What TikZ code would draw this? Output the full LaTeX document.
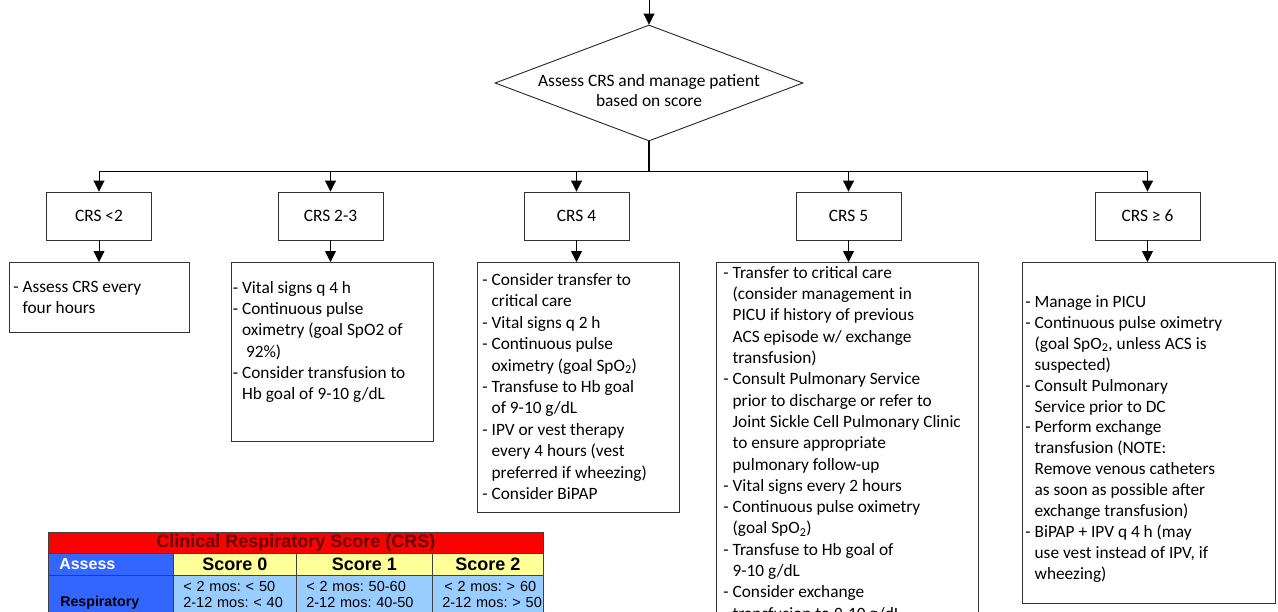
\documentclass[tikz,border=0pt]{standalone}
\usepackage{fontspec}
\setmainfont{Carlito}
\newfontfamily\arialf{Liberation Sans}
\usetikzlibrary{arrows.meta,shapes.geometric}
\definecolor{crsred}{RGB}{255,0,0}
\definecolor{crsdark}{RGB}{100,0,0}
\definecolor{crsblue}{RGB}{51,102,255}
\definecolor{crsyellow}{RGB}{255,255,153}
\definecolor{crslight}{RGB}{153,204,255}
\newcommand{\ind}{\hphantom{-\ }}
\newcommand{\boxtext}[5]{\parbox[t][#1][t]{#2}{\fontsize{17.3}{#3}\selectfont\raggedright\vspace*{#4}\strut#5}}
\begin{document}
\frenchspacing
\begin{tikzpicture}[x=1pt,y=-1pt,
  crs/.style={draw=black!80, line width=0.9pt, minimum width=105pt, minimum height=48pt, inner sep=0pt, font=\fontsize{17.4}{20}\selectfont},
  dbox/.style={draw=black!80, line width=0.9pt, inner ysep=0pt, anchor=north west},
  arr/.style={draw=black, line width=0.9pt, -{Triangle[width=11pt,length=11pt]}},
  cell/.style={draw=black!75, line width=0.6pt, anchor=north west, inner ysep=0pt},
  dcell/.style={cell, fill=crslight, minimum height=38pt, align=left, font=\arialf\fontsize{14.5}{16}\selectfont}]
\useasboundingbox (0,0) rectangle (1278,611);
\clip (0,0) rectangle (1278,611);
\fill[white] (0,0) rectangle (1278,611);

% decision
\coordinate (entry) at (649,0);
\node[diamond, draw=black!85, line width=0.9pt, aspect=2.655, minimum width=308pt, minimum height=116pt, inner sep=0pt,
  label={[name=dialbl, anchor=center, yshift=51pt, align=center, font=\fontsize{17.4}{20}\selectfont]south:{Assess CRS and manage patient\\based on score}}] (dia) at (649,83) {};
\coordinate (bus) at (649,171);

% CRS boxes
\node[crs] (c1) at (99,216) {CRS <2};
\node[crs] (c2) at (330.5,216) {CRS 2-3};
\node[crs] (c3) at (576.5,216) {CRS 4};
\node[crs] (c4) at (848.5,216) {CRS 5};
\node[crs] (c5) at (1147.5,216) {CRS ≥ 6};

% detail boxes
\node[dbox, inner xsep=4pt] (d1) at (9,262) {\boxtext{70pt}{172pt}{20.7pt}{15.5pt}{%
- Assess CRS every\\
\ind four hours}};
\node[dbox, inner xsep=1.5pt] (d2) at (231,262) {\boxtext{179pt}{199pt}{21.3pt}{16pt}{%
- Vital signs q 4 h\\
- Continuous pulse\\
\ind oximetry (goal SpO2 of\\
\ind\ 92\%)\\
- Consider transfusion to\\
\ind Hb goal of 9-10 g/dL}};
\node[dbox, inner xsep=5pt] (d3) at (477,262) {\boxtext{250pt}{192pt}{21.4pt}{8pt}{%
- Consider transfer to\\
\ind critical care\\
- Vital signs q 2 h\\
- Continuous pulse\\
\ind oximetry (goal SpO\textsubscript{2})\\
- Transfuse to Hb goal\\
\ind of 9-10 g/dL\\
- IPV or vest therapy\\
\ind every 4 hours (vest\\
\ind preferred if wheezing)\\
- Consider BiPAP}};
\node[dbox, inner xsep=7pt] (d4) at (716,262) {\boxtext{380pt}{248pt}{21.3pt}{1pt}{%
- Transfer to critical care\\
\ind (consider management in\\
\ind PICU if history of previous\\
\ind ACS episode w/ exchange\\
\ind transfusion)\\
- Consult Pulmonary Service\\
\ind prior to discharge or refer to\\
\ind Joint Sickle Cell Pulmonary Clinic\\
\ind to ensure appropriate\\
\ind pulmonary follow-up\\
- Vital signs every 2 hours\\
- Continuous pulse oximetry\\
\ind (goal SpO\textsubscript{2})\\
- Transfuse to Hb goal of\\
\ind 9-10 g/dL\\
- Consider exchange\\
\ind transfusion to 9-10 g/dL}};
\node[dbox, inner xsep=3pt] (d5) at (1022,262) {\boxtext{341pt}{247pt}{20.9pt}{30.5pt}{%
- Manage in PICU\\
- Continuous pulse oximetry\\
\ind (goal SpO\textsubscript{2}, unless ACS is\\
\ind suspected)\\
- Consult Pulmonary\\
\ind Service prior to DC\\
- Perform exchange\\
\ind transfusion (NOTE:\\
\ind Remove venous catheters\\
\ind as soon as possible after\\
\ind exchange transfusion)\\
- BiPAP + IPV q 4 h (may\\
\ind use vest instead of IPV, if\\
\ind wheezing)}};

% connectors
\draw[arr] (entry) -- (dia.north);
\draw[line width=1.5pt] (dia.south) -- (bus);
\draw[line width=0.9pt] (c1.north |- bus) -- (c5.north |- bus);
\foreach \c in {c1,c2,c3,c4,c5} {\draw[arr] (\c.north |- bus) -- (\c.north);}
\draw[arr] (c1.south) -- (c1.south |- d1.north);
\draw[arr] (c2.south) -- (c2.south |- d2.north);
\draw[arr] (c3.south) -- (c3.south |- d3.north);
\draw[arr] (c4.south) -- (c4.south |- d4.north);
\draw[arr] (c5.south) -- (c5.south |- d5.north);

% CRS table
\node[cell, fill=crsred, minimum width=495pt, minimum height=21pt, text=crsdark, font=\arialf\bfseries\fontsize{18}{20}\selectfont] (ttl) at (48,532) {Clinical Respiratory Score (CRS)};
\node[cell, fill=crsblue, minimum width=125pt, minimum height=22pt, inner xsep=11pt, text width=103pt, align=left, text=white, font=\arialf\bfseries\fontsize{16}{18}\selectfont] (hA) at (48,553) {Assess};
\node[cell, fill=crsyellow, minimum width=123pt, minimum height=22pt, font=\arialf\bfseries\fontsize{18}{20}\selectfont] (h0) at (173,553) {Score 0};
\node[cell, fill=crsyellow, minimum width=136pt, minimum height=22pt, font=\arialf\bfseries\fontsize{18}{20}\selectfont] (h1) at (296,553) {Score 1};
\node[cell, fill=crsyellow, minimum width=111pt, minimum height=22pt, font=\arialf\bfseries\fontsize{18}{20}\selectfont] (h2) at (432,553) {Score 2};
\node[cell, fill=crsblue, minimum width=125pt, minimum height=38pt, inner xsep=12pt, text width=101pt, align=left, font=\arialf\bfseries\fontsize{14.2}{16}\selectfont] (rA) at (48,575) {\raisebox{-12pt}[0pt][0pt]{Respiratory}};
\node[dcell, inner xsep=10pt, text width=103pt] (r0) at (173,575) {\mbox{< 2 mos: < 50}\\\mbox{2-12 mos: < 40}};
\node[dcell, inner xsep=10pt, text width=116pt] (r1) at (296,575) {\mbox{< 2 mos: 50-60}\\\mbox{2-12 mos: 40-50}};
\node[dcell, inner xsep=10pt, text width=91pt] (r2) at (432,575) {\mbox{\hspace{2pt}< 2 mos: > 60}\\\mbox{2-12 mos: > 50}};
\end{tikzpicture}
\end{document}
